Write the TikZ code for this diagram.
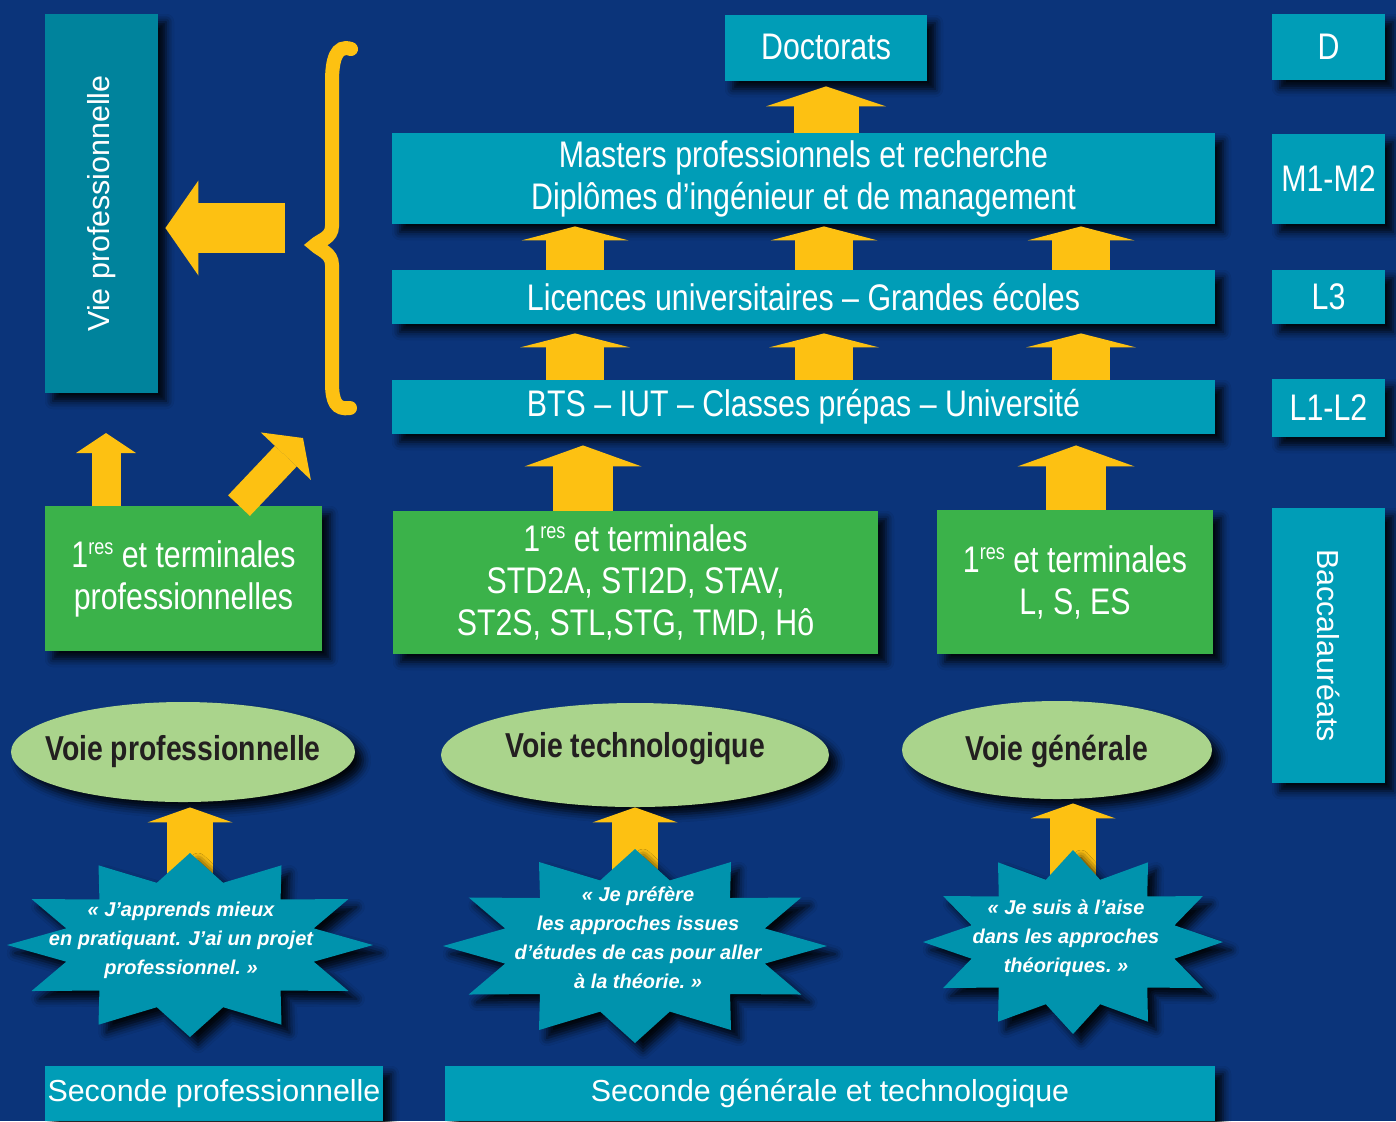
\documentclass[tikz,border=0pt]{standalone}
\usepackage{fontspec}
\setmainfont{Liberation Sans}
\newfontfamily\etroit[FakeStretch=0.82]{Liberation Sans}
\usetikzlibrary{arrows.meta,shapes.geometric,shadows.blur}
\definecolor{fond}{RGB}{11,52,122}
\definecolor{bleu}{RGB}{0,157,183}
\definecolor{bleufonce}{RGB}{0,131,156}
\definecolor{vert}{RGB}{59,178,74}
\definecolor{vertpale}{RGB}{170,212,140}
\definecolor{jaune}{RGB}{253,193,18}
\definecolor{bleuetoile}{RGB}{0,147,173}
\definecolor{encre}{RGB}{35,31,32}
\newcommand\exposant[1]{\raisebox{6.5pt}{\fontsize{11}{11}\selectfont #1}}
\begin{document}
\begin{tikzpicture}[x=0.5pt,y=-0.5pt,
    ombre/.style={blur shadow={shadow xshift=4pt,shadow yshift=-4pt,shadow blur radius=4pt,shadow opacity=90}},
    bloc/.style={ombre,fill=bleu,text=white,inner sep=0pt,align=center,font=\etroit\fontsize{18.5}{21}\selectfont},
    vbloc/.style={bloc,fill=vert},
    large/.style={bloc,font=\fontsize{15.2}{18}\selectfont},
    voie/.style={ellipse,ombre,fill=vertpale,text=encre,inner sep=0pt,font=\etroit\bfseries\fontsize{17.3}{21}\selectfont},
    citation/.style={text=white,align=center,font=\bfseries\itshape\fontsize{10}{14.5}\selectfont},
    fleche/.style n args={3}{draw=jaune,line width=#1,-{Triangle[width=#2,length=#3,line width=0pt]}}]
    \useasboundingbox (0,0) rectangle (1396,1121);
    \fill[fond] (0,0) rectangle (1396,1121);
    \newcommand\cadre[6]{
      \node[#6,minimum width={(#3-#1)*0.5pt},minimum height={(#4-#2)*0.5pt}]
      (#5) at ({(#1+#3)/2},{(#2+#4)/2})
    }
    \newcommand\etoile[4]{
      \fill[bleuetoile,ombre] (#1,#2-#4) \foreach \k in {0,...,11}{
        -- ({#1+0.7*#3*cos(105+30*\k)},{#2-0.7*#4*sin(105+30*\k)})
        -- ({#1+#3*cos(120+30*\k)},{#2-#4*sin(120+30*\k)})} -- cycle;
    }
    % enseignement superieur
    \cadre{725}{15}{927}{81}{doc}{bloc} {\raisebox{1pt}{Doctorats}};
    \cadre{392}{133}{1215}{224}{mast}{bloc} {Masters professionnels et recherche\\Diplômes d’ingénieur et de management};
    \cadre{392}{270}{1215}{324}{lic}{bloc} {Licences universitaires – Grandes écoles};
    \cadre{392}{380}{1215}{434}{bts}{bloc} {BTS – IUT – Classes prépas – Université};
    \cadre{45}{14}{158}{393}{vie}{large,fill=bleufonce} {\rotatebox{90}{Vie professionnelle}};
    % niveaux
    \cadre{1272}{14}{1385}{80}{nD}{bloc} {D};
    \cadre{1272}{134}{1385}{224}{nM}{bloc} {M1-M2};
    \cadre{1272}{270}{1385}{324}{nL3}{bloc} {L3};
    \cadre{1272}{379}{1385}{437}{nL}{bloc} {L1-L2};
    \cadre{1272}{508}{1385}{783}{bac}{large} {\rotatebox{-90}{Baccalauréats}};
    % lycee
    \cadre{45}{506}{322}{651}{tpro}{vbloc} {1\exposant{res} et terminales\\professionnelles};
    \cadre{393}{511}{878}{654}{ttech}{vbloc} {1\exposant{res} et terminales\\STD2A, STI2D, STAV,\\ST2S, STL,STG, TMD, Hô};
    \cadre{937}{510}{1213}{654}{tgen}{vbloc} {1\exposant{res} et terminales\\L, S, ES};
    \node[voie,minimum width=172pt,minimum height=50pt] (vpro) at (183,752) {\makebox[0pt]{\raisebox{-4pt}[0pt][0pt]{Voie professionnelle}}};
    \node[voie,minimum width=194pt,minimum height=52pt] (vtech) at (635,755) {\makebox[0pt]{\raisebox{-1pt}[0pt][0pt]{Voie technologique}}};
    \node[voie,minimum width=155pt,minimum height=49pt] (vgen) at (1057,750) {\makebox[0pt]{\raisebox{-5pt}[0pt][0pt]{Voie générale}}};
    \cadre{45}{1066}{383}{1121}{spro}{large} {Seconde professionnelle};
    \cadre{445}{1066}{1215}{1121}{sgen}{large} {Seconde générale et technologique};
    % fleches
    \draw[fleche={32.5pt}{60pt}{10pt},shorten >=2.5pt] (mast.north -| doc) -- (doc.south);
    \foreach \x in {575,824,1081}{
      \draw[fleche={29pt}{53.5pt}{7pt},shorten >=1pt] (\x,0 |- lic.north) -- (\x,0 |- mast.south);
      \draw[fleche={29pt}{55pt}{7pt},shorten >=4.5pt] (\x,0 |- bts.north) -- (\x,0 |- lic.south);
    }
    \draw[fleche={30pt}{58.5pt}{10.5pt},shorten >=5.5pt] (583,0 |- ttech.north) -- (583,0 |- bts.south);
    \draw[fleche={30pt}{58.5pt}{10.5pt},shorten >=5.5pt] (1076,0 |- tgen.north) -- (1076,0 |- bts.south);
    \coordinate (haut1) at (106,433);
    \coordinate (haut2) at (303,438);
    \draw[fleche={14.5pt}{30pt}{10pt}] (106,0 |- tpro.north) -- (haut1);
    \draw[fleche={15pt}{34.5pt}{12.5pt}] (239,0 |- tpro.north) -- (haut2);
    \coordinate (accolade) at (285,228);
    \draw[fleche={25pt}{47.5pt}{16.5pt},shorten >=3.5pt] (accolade) -- (accolade -| vie.east);
    \draw[jaune,line width=7pt,line cap=round]
      (351,49) .. controls (336,44) and (332,60) .. (332,82) -- (332,226)
      .. controls (332,238) and (320,240) .. (315,245)
      .. controls (320,250) and (332,253) .. (332,265) -- (332,382)
      .. controls (332,402) and (336,410) .. (350,408);
    % citations
    \coordinate (c1) at (190,945);
    \coordinate (c2) at (635,946);
    \coordinate (c3) at (1073,942);
    \draw[fleche={23pt}{42.5pt}{7.5pt},shorten >=2.5pt] (c1) -- (c1 |- vpro.south);
    \draw[fleche={23pt}{42.5pt}{7.5pt},shorten >=0pt] (c2) -- (c2 |- vtech.south);
    \draw[fleche={23pt}{42.5pt}{7.5pt},shorten >=2pt] (c3) -- (c3 |- vgen.south);
    \etoile{190}{945}{183}{92}
    \etoile{635}{946}{192}{97}
    \etoile{1073}{942}{150}{92}
    \node[citation] (q1) at (181,940) {«~J’apprends mieux\\en pratiquant. J’ai un projet\\professionnel.~»};
    \node[citation] (q2) at (638,938) {«~Je préfère\\les approches issues\\d’études de cas pour aller\\à la théorie.~»};
    \node[citation] (q3) at (1066,938) {«~Je suis à l’aise\\dans les approches\\théoriques.~»};
\end{tikzpicture}
\end{document}
